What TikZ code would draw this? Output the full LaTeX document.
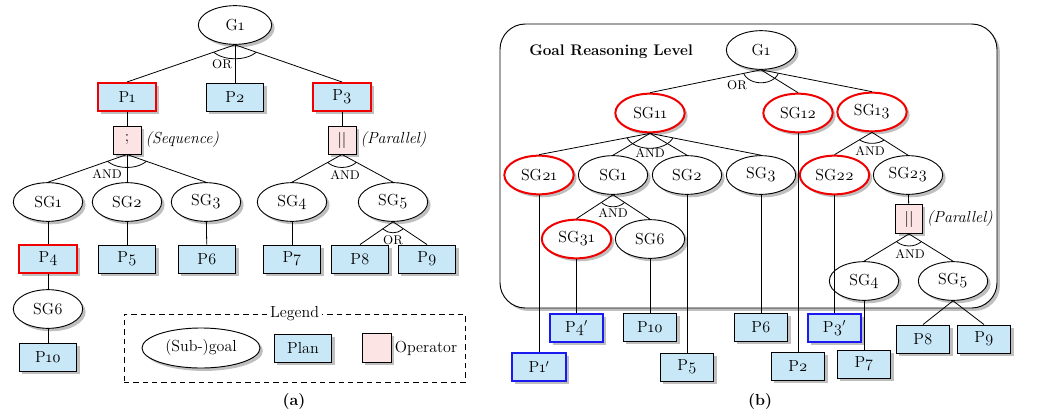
\documentclass[tikz,border=0pt]{standalone}
\usepackage{fontspec}
\setmainfont{Latin Modern Roman}[Numbers=OldStyle]
\usepackage{xcolor}
\usepackage{tikz}
\usetikzlibrary{calc,positioning,shadows,shapes.geometric}
\definecolor{planblue}{HTML}{C8E8F8}
\definecolor{operpink}{HTML}{FCE4E4}
\definecolor{selred}{HTML}{F00000}
\definecolor{altblue}{HTML}{1A1AF0}
\tikzset{
  dshadow/.style={drop shadow={shadow xshift=2.2pt,shadow yshift=-2.2pt,fill=black!25,opacity=1}},
  goal/.style={ellipse,draw,line width=.7pt,fill=white,minimum width=52pt,
    minimum height=29pt,inner sep=0pt,dshadow},
  goalsel/.style={goal,draw=selred,line width=1.5pt},
  plan/.style={rectangle,draw,line width=.7pt,fill=planblue,minimum width=43pt,
    minimum height=21pt,inner sep=0pt,dshadow},
  plansel/.style={plan,draw=selred,line width=1.5pt},
  bplan/.style={plan,minimum width=40pt},
  planalt/.style={bplan,draw=altblue,line width=1.5pt},
  oper/.style={rectangle,draw,line width=.7pt,fill=operpink,minimum width=21pt,
    minimum height=21pt,inner sep=0pt,dshadow},
  opnote/.style={font=\fontsize{12}{14}\selectfont\itshape,inner sep=2pt},
  link/.style={line width=.6pt},
  joinlbl/.style={font=\fontsize{9.5}{10}\selectfont,inner sep=0pt},
  panel/.style={draw,line width=.7pt,fill=white,rounded corners=19pt,dshadow},
  legendbox/.style={draw,line width=.6pt,dash pattern=on 4pt off 3pt}
}
% arc that joins the branches below a node
\newcommand{\joinarc}[5]{%
  \begin{scope}
    \clip (#1) -- ($(#1)!3!(#2)$) -- ($(#1)!3!(#3)$) -- cycle;
    \draw[link] (#1) ellipse [x radius=#4,y radius=#5];
  \end{scope}}

\begin{document}
\begin{tikzpicture}[x=0.75pt,y=-0.75pt,font=\fontsize{12}{14}\selectfont]
  \useasboundingbox (0,0) rectangle (1052,418);

  % (a)
  \node[goal,minimum width=55pt] (aG1) at (235,25) {G1};
  \node[plansel] (aP1) at (127,97) {P1};
  \node[plan] (aP2) at (235,97) {P2};
  \node[plansel] (aP3) at (342,97) {P3};
  \node[oper] (aSeq) at (127,140) {;};
  \node[opnote,right=1pt of aSeq] (aSeqN) {(Sequence)};
  \node[oper] (aPar) at (342,140) {$||$};
  \node[opnote,right=1pt of aPar] (aParN) {(Parallel)};
  \node[goal] (aSG1) at (48,202) {SG1};
  \node[goal] (aSG2) at (127,202) {SG2};
  \node[goal] (aSG3) at (206,202) {SG3};
  \node[goal] (aSG4) at (292,202) {SG4};
  \node[goal] (aSG5) at (393,202) {SG5};
  \node[plansel] (aP4) at (48,259) {P4};
  \node[plan] (aP5) at (127,259) {P5};
  \node[plan] (aP6) at (207,259) {P6};
  \node[plan] (aP7) at (292,259) {P7};
  \node[plan] (aP8) at (360,259) {P8};
  \node[plan] (aP9) at (427,259) {P9};
  \node[goal] (aSG6) at (48,309) {SG6};
  \node[plan] (aP10) at (48,357) {P10};

  \draw[link] (aG1.south)--(aP1.north);
  \draw[link] (aG1.south)--(aP2.north);
  \draw[link] (aG1.south)--(aP3.north);
  \joinarc{aG1.south}{aP1.north}{aP3.north}{18.75pt}{10.5pt}
  \node[joinlbl] (aOr1) at (222,64) {OR};
  \draw[link] (aP1)--(aSeq);
  \draw[link] (aP3)--(aPar);
  \draw[link] (aSeq.south)--(aSG1.north);
  \draw[link] (aSeq.south)--(aSG2.north);
  \draw[link] (aSeq.south)--(aSG3.north);
  \joinarc{aSeq.south}{aSG1.north}{aSG3.north}{17pt}{9.75pt}
  \node[joinlbl] (aAnd1) at (107,174) {AND};
  \draw[link] (aPar.south)--(aSG4.north);
  \draw[link] (aPar.south)--(aSG5.north);
  \joinarc{aPar.south}{aSG4.north}{aSG5.north}{13.5pt}{9.75pt}
  \node[joinlbl] (aAnd2) at (345,175) {AND};
  \draw[link] (aSG1)--(aP4);
  \draw[link] (aSG2)--(aP5);
  \draw[link] (aSG3)--(aP6);
  \draw[link] (aSG4)--(aP7);
  \draw[link] (aSG5.south)--(aP8.north);
  \draw[link] (aSG5.south)--(aP9.north);
  \joinarc{aSG5.south}{aP8.north}{aP9.north}{9.75pt}{8.25pt}
  \node[joinlbl] (aOr2) at (393,240) {OR};
  \draw[link] (aP4)--(aSG6);
  \draw[link] (aSG6)--(aP10);

  % legend
  \node[legendbox,minimum width=255.75pt,minimum height=51pt] (legend) at (294.5,348) {};
  \node[fill=white,inner sep=2pt] (legendT) at (legend.north) {Legend};
  \node[goal,minimum width=88.5pt,minimum height=30pt] (lgGoal) at (201,348) {(Sub-)goal};
  \node[plan] (lgPlan) at (303,348) {Plan};
  \node[oper,minimum width=21.75pt,minimum height=21.75pt] (lgOp) at (377,348) {};
  \node[right=0pt of lgOp,inner sep=2pt] (lgOpT) {Operator};
  \node[font=\fontsize{12}{14}\selectfont\bfseries] (aTitle) at (294,402) {(a)};

  % (b)
  \node[panel,minimum width=372.75pt,minimum height=213pt] (glpanel) at (748.5,166) {};
  \node[anchor=west,inner sep=0pt,font=\fontsize{11.5}{13}\selectfont\bfseries] (glTitle) at (529,52) {Goal Reasoning Level};
  \node[goal] (bG1) at (761,50) {G1};
  \node[goalsel] (bSG11) at (650,113) {SG11};
  \node[goalsel] (bSG12) at (798,113) {SG12};
  \node[goalsel] (bSG13) at (872,112) {SG13};
  \node[goalsel] (bSG21) at (539,175) {SG21};
  \node[goal] (bSG1) at (613,175) {SG1};
  \node[goal] (bSG2) at (687,175) {SG2};
  \node[goal] (bSG3) at (761,175) {SG3};
  \node[goalsel] (bSG22) at (834.5,175) {SG22};
  \node[goal] (bSG23) at (908,175) {SG23};
  \node[oper,minimum width=20pt,minimum height=21.75pt] (bPar) at (909,219) {$||$};
  \node[opnote,right=1pt of bPar] (bParN) {(Parallel)};
  \node[goalsel] (bSG31) at (576.5,239) {SG31};
  \node[goal] (bSG6) at (650,239) {SG6};
  \node[goal] (bSG4) at (864,281) {SG4};
  \node[goal] (bSG5) at (953,281) {SG5};
  \node[planalt] (bP4) at (576.5,328) {P4$'$};
  \node[bplan] (bP10) at (650,327) {P10};
  \node[bplan] (bP6) at (761,327) {P6};
  \node[planalt] (bP3) at (834.5,328) {P3$'$};
  \node[planalt] (bP1) at (539,367) {P1$'$};
  \node[bplan] (bP5) at (687,367) {P5};
  \node[bplan] (bP2) at (798,366) {P2};
  \node[bplan] (bP7) at (864,364) {P7};
  \node[bplan] (bP8) at (923,339) {P8};
  \node[bplan] (bP9) at (984,339) {P9};

  \draw[link] (bG1.south)--(bSG11.north);
  \draw[link] (bG1.south)--(bSG12.north);
  \draw[link] (bG1.south)--(bSG13.north);
  \joinarc{bG1.south}{bSG11.north}{bSG13.north}{13.5pt}{9.75pt}
  \node[joinlbl] (bOr1) at (737,85) {OR};
  \draw[link] (bSG11.south)--(bSG21.north);
  \draw[link] (bSG11.south)--(bSG1.north);
  \draw[link] (bSG11.south)--(bSG2.north);
  \draw[link] (bSG11.south)--(bSG3.north);
  \joinarc{bSG11.south}{bSG21.north}{bSG3.north}{18pt}{11.25pt}
  \node[joinlbl] (bAnd1) at (650,153) {AND};
  \draw[link] (bSG13.south)--(bSG22.north);
  \draw[link] (bSG13.south)--(bSG23.north);
  \joinarc{bSG13.south}{bSG22.north}{bSG23.north}{12.75pt}{8.25pt}
  \node[joinlbl] (bAnd2) at (870,151) {AND};
  \draw[link] (bSG1.south)--(bSG31.north);
  \draw[link] (bSG1.south)--(bSG6.north);
  \joinarc{bSG1.south}{bSG31.north}{bSG6.north}{11.25pt}{9pt}
  \node[joinlbl] (bAnd3) at (613,213) {AND};
  \draw[link] (bSG23)--(bPar);
  \draw[link] (bPar.south)--(bSG4.north);
  \draw[link] (bPar.south)--(bSG5.north);
  \joinarc{bPar.south}{bSG4.north}{bSG5.north}{12pt}{9pt}
  \node[joinlbl] (bAnd4) at (910,254) {AND};
  \draw[link] (bSG21)--(bP1);
  \draw[link] (bSG31)--(bP4);
  \draw[link] (bSG6)--(bP10);
  \draw[link] (bSG2)--(bP5);
  \draw[link] (bSG3)--(bP6);
  \draw[link] (bSG12)--(bP2);
  \draw[link] (bSG22)--(bP3);
  \draw[link] (bSG4)--(bP7);
  \draw[link] (bSG5.south)--(bP8.north);
  \draw[link] (bSG5.south)--(bP9.north);
  \node[font=\fontsize{12}{14}\selectfont\bfseries] (bTitle) at (760,402) {(b)};
\end{tikzpicture}
\end{document}
